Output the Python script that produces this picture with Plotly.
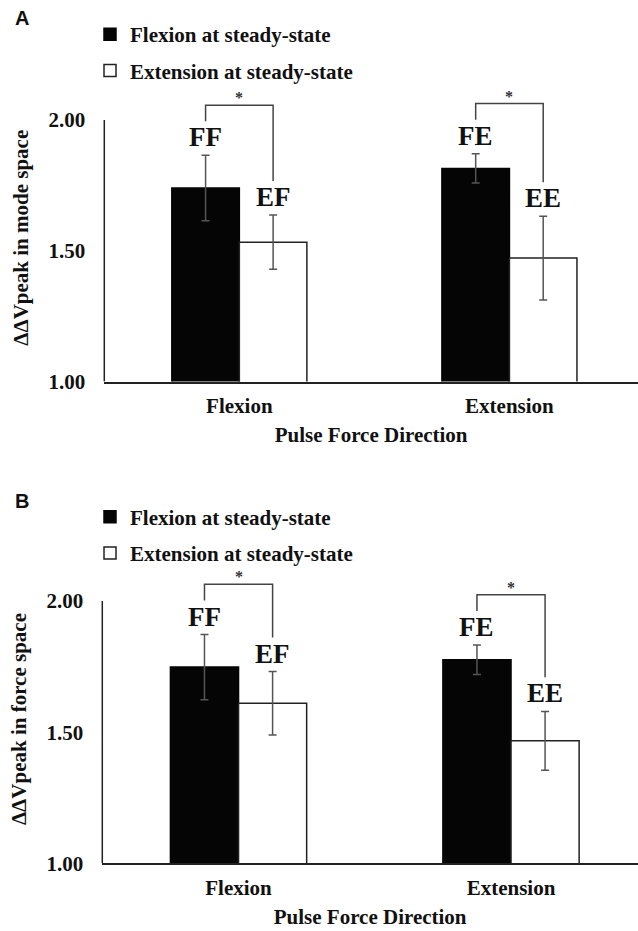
import plotly.graph_objects as go

# Pulse force directions (x categories) and steady-state conditions
groups = ["Flexion", "Extension"]
series_names = ["Flexion at steady-state", "Extension at steady-state"]

# Panel A: ΔΔVpeak in mode space (means and SE)
mode_flex = [1.74, 1.815]
mode_flex_err = [0.125, 0.056]
mode_ext = [1.533, 1.472]
mode_ext_err = [0.104, 0.160]

# Panel B: ΔΔVpeak in force space (means and SE)
force_flex = [1.748, 1.776]
force_flex_err = [0.124, 0.056]
force_ext = [1.610, 1.467]
force_ext_err = [0.121, 0.112]

# Condition labels drawn above each bar
flex_labels = ["FF", "FE"]
ext_labels = ["EF", "EE"]

y_ticks = [1.0, 1.5, 2.0]

W, H = 638, 931
SERIF = "Liberation Serif, Times New Roman, serif"
SANS = "Liberation Sans, Arial, sans-serif"
LINE = "#222222"
BRK = "#444444"
TXT = "#111111"

xpos = list(range(len(groups)))
half = 0.125  # half-width of a bar in x units (bargap 0.5, two bars per group)


def px_y(p):
    return 1 - p / H


def bold(size, family=SERIF, color=TXT):
    return dict(family=family, size=size, color=color, weight="bold")


panels = [
    dict(flex=mode_flex, flex_err=mode_flex_err, ext=mode_ext, ext_err=mode_ext_err,
         ytitle="ΔΔVpeak in mode space", xa="x", ya="y", legend="legend",
         xdom=[104.3 / W, 1], xmax=1.476, ydom=[px_y(381.5), px_y(93.9)],
         tag="A", tag_y=18, legend_y=14),
    dict(flex=force_flex, flex_err=force_flex_err, ext=force_ext, ext_err=force_ext_err,
         ytitle="ΔΔVpeak in force space", xa="x2", ya="y2", legend="legend2",
         xdom=[102.3 / W, 1], xmax=1.466, ydom=[px_y(863.3), px_y(574.8)],
         tag="B", tag_y=501, legend_y=496.5),
]

fig = go.Figure()
annotations = []
shapes = []

for i, p in enumerate(panels):
    fig.add_trace(go.Bar(
        x=xpos, y=p["flex"], name=series_names[0], xaxis=p["xa"], yaxis=p["ya"],
        legend=p["legend"], legendgroup=f"f{i}",
        marker=dict(color="#050505", line=dict(color="#050505", width=1.5)),
        error_y=dict(type="data", array=p["flex_err"], color="#555555", thickness=1.5, width=4),
    ))
    fig.add_trace(go.Bar(
        x=xpos, y=p["ext"], name=series_names[1], xaxis=p["xa"], yaxis=p["ya"],
        legend=p["legend"], legendgroup=f"e{i}",
        marker=dict(color="#ffffff", line=dict(color=LINE, width=1.5)),
        error_y=dict(type="data", array=p["ext_err"], color="#555555", thickness=1.5, width=4),
    ))

    for g in xpos:
        top_f = p["flex"][g] + p["flex_err"][g]
        top_e = p["ext"][g] + p["ext_err"][g]
        xf, xe = g - half, g + half
        # condition labels above the error bars
        for xx, yy, txt in [(xf, top_f, flex_labels[g]), (xe, top_e, ext_labels[g])]:
            annotations.append(dict(
                x=xx, y=yy, xref=p["xa"], yref=p["ya"], text=txt, showarrow=False,
                yanchor="middle", yshift=18, font=bold(27),
            ))
        # significance bracket
        leg_f = top_f + 0.13
        leg_e = top_e + 0.13
        bt = max(leg_f, leg_e) + 0.062
        shapes.append(dict(
            type="path", xref=p["xa"], yref=p["ya"],
            path=f"M {xf},{leg_f} L {xf},{bt} L {xe},{bt} L {xe},{leg_e}",
            line=dict(color=BRK, width=1.5),
        ))
        annotations.append(dict(
            x=g, y=bt, xref=p["xa"], yref=p["ya"], text="*", showarrow=False,
            yanchor="bottom", yshift=-3, font=bold(16, color="#333333"),
        ))

    # left axis line spanning 1.00 to 2.00
    shapes.append(dict(
        type="line", xref=f"{p['xa']} domain", yref=p["ya"], x0=0, x1=0,
        y0=y_ticks[0], y1=y_ticks[-1], line=dict(color=LINE, width=1.5),
    ))
    # panel tag
    annotations.append(dict(
        x=21.5 / W, y=px_y(p["tag_y"]), xref="paper", yref="paper", text=p["tag"],
        showarrow=False, xanchor="center", yanchor="middle", font=bold(20, family=SANS),
    ))

axis_font = bold(21)

layout = dict(
    width=W, height=H,
    margin=dict(l=0, r=0, t=0, b=0),
    paper_bgcolor="white", plot_bgcolor="white",
    barmode="group", bargap=0.5, bargroupgap=0,
    font=dict(family=SERIF, size=21, color=TXT),
    annotations=annotations, shapes=shapes,
)

for i, p in enumerate(panels):
    sfx = "" if i == 0 else "2"
    layout[f"xaxis{sfx}"] = dict(
        domain=p["xdom"], range=[-0.5, p["xmax"]], anchor=p["ya"],
        tickvals=xpos, ticktext=groups,
        ticks="", ticklabelstandoff=5, showgrid=False, zeroline=False,
        showline=True, linecolor=LINE, linewidth=1.5, tickfont=axis_font,
        title=dict(text="Pulse Force Direction", font=axis_font, standoff=10),
        automargin=False, fixedrange=True,
    )
    layout[f"yaxis{sfx}"] = dict(
        domain=p["ydom"], range=[1.0, 2.1], anchor=p["xa"],
        tickvals=y_ticks, ticktext=[f"{v:.2f}" for v in y_ticks],
        ticks="", ticklabelstandoff=18, showgrid=False, zeroline=False, showline=False,
        tickfont=axis_font,
        title=dict(text=p["ytitle"], font=axis_font, standoff=14),
        automargin=False, fixedrange=True,
    )

legend_common = dict(
    font=bold(21), bgcolor="rgba(0,0,0,0)",
    xref="paper", yref="paper", xanchor="left", yanchor="top",
    tracegroupgap=6, traceorder="grouped", itemclick=False, itemdoubleclick=False,
)
for p in panels:
    layout[p["legend"]] = dict(legend_common, x=90 / W, y=px_y(p["legend_y"]))

fig.update_layout(**layout)
fig.write_html("out.html")
